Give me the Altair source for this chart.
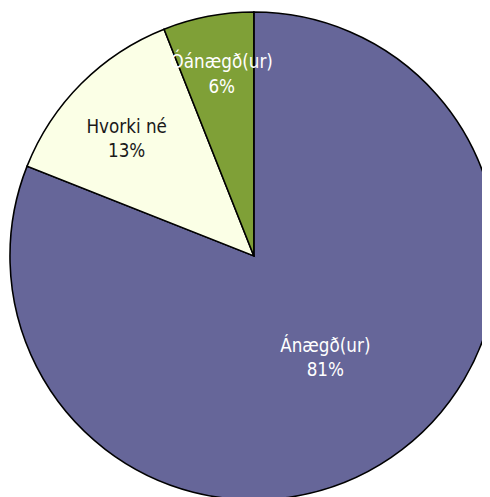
import altair as alt
import pandas as pd

categories = ["Ánægð(ur)", "Hvorki né", "Óánægð(ur)"]
values = [81, 13, 6]
colors = ["#666699", "#FBFFE6", "#7FA037"]
label_colors = ["#FFFFFF", "#1A1A1A", "#FFFFFF"]

df = pd.DataFrame({"cat": categories, "val": values, "ord": [0, 1, 2]})
df["label"] = df["cat"] + "\n" + df["val"].astype(str) + "%"

W, H = 482, 489
CX, CY = 250, 248

base = alt.Chart(df).encode(
    theta=alt.Theta("val:Q", stack=True),
    order=alt.Order("ord:Q"),
    x=alt.value(CX),
    y=alt.value(CY),
)

pie = base.mark_arc(radius=248, stroke="black", strokeWidth=1.6).encode(
    color=alt.Color("cat:N", scale=alt.Scale(domain=categories, range=colors), legend=None)
)

FONT = "'Liberation Sans Narrow', 'DejaVu Sans Condensed', 'Roboto Condensed', 'Liberation Sans', sans-serif"
label_style = {
    "Ánægð(ur)": dict(radius=124, dx=3, dy=-11),
    "Hvorki né": dict(radius=173, dx=-7, dy=-9),
    "Óánægð(ur)": dict(radius=185, dx=2, dy=-15),
}
layers = [pie]
for c, lc in zip(categories, label_colors):
    t = base.mark_text(
        font=FONT,
        fontSize=19,
        lineHeight=25,
        lineBreak="\n",
        color=lc,
        baseline="middle",
        align="center",
        **label_style[c],
    ).encode(
        text=alt.Text("label:N"),
        opacity=alt.condition(alt.datum.cat == c, alt.value(1), alt.value(0)),
    )
    layers.append(t)

chart = alt.layer(*layers).properties(
    width=W, height=H, padding=0, autosize=alt.AutoSizeParams(type="none")
).configure_view(stroke=None)

chart.save("out.html", embed_options={"renderer": "svg", "actions": False})
